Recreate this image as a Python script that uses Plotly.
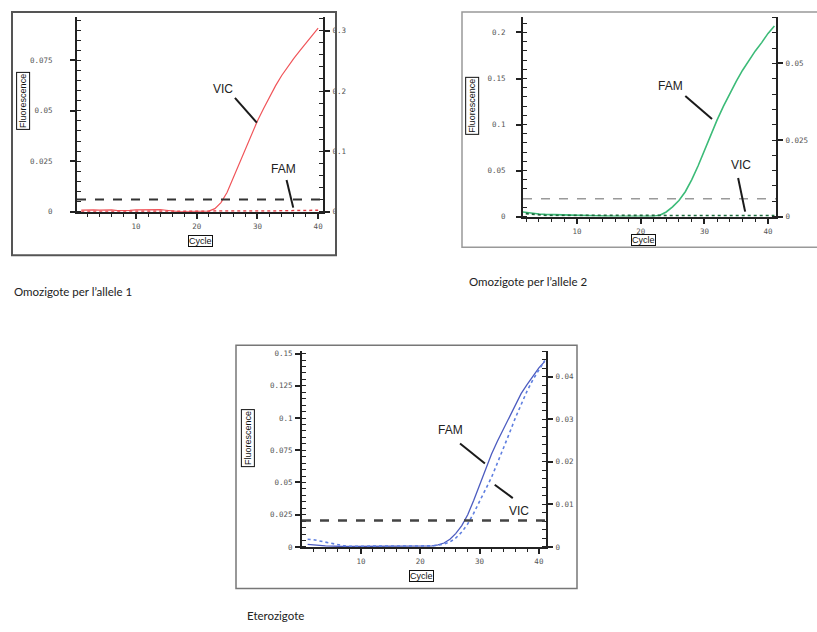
import plotly.graph_objects as go

# ---------------- data ----------------
cycles = list(range(1, 42))

# Panel 1 - Omozigote per l'allele 1 (VIC on left axis, FAM on right axis)
p1_vic = [0.0008, 0.0010, 0.0009, 0.0008, 0.0010, 0.0009, 0.0005, 0.0004, 0.0006, 0.0009,
          0.0010, 0.0011, 0.0010, 0.0010, 0.0007, 0.0002, 0.0000, 0.0000, 0.0000, 0.0000,
          0.0001, 0.0003, 0.0015, 0.0045, 0.0095, 0.0165, 0.0240, 0.0310, 0.0380, 0.0450,
          0.0510, 0.0570, 0.0625, 0.0675, 0.0720, 0.0760, 0.0798, 0.0837, 0.0875, 0.0910]
p1_fam = [0.0002, 0.0002, 0.0001, 0.0001, 0.0001, 0.0001, 0.0001, 0.0001, 0.0001, 0.0001,
          0.0001, 0.0001, 0.0001, 0.0001, 0.0001, 0.0001, 0.0001, 0.0001, 0.0001, 0.0001,
          0.0001, 0.0001, 0.0001, 0.0002, 0.0002, 0.0003, 0.0004, 0.0005, 0.0006, 0.0008,
          0.0009, 0.0010, 0.0012, 0.0014, 0.0016, 0.0018, 0.0020, 0.0021, 0.0022, 0.0023]
p1_threshold = 0.006

# Panel 2 - Omozigote per l'allele 2 (FAM on left axis, VIC on right axis)
p2_fam = [0.0055, 0.0045, 0.0035, 0.0028, 0.0024, 0.0022, 0.0021, 0.0019, 0.0016, 0.0011,
          0.0006, 0.0003, 0.0002, 0.0002, 0.0002, 0.0002, 0.0002, 0.0002, 0.0002, 0.0002,
          0.0002, 0.0004, 0.0015, 0.0050, 0.0105, 0.0175, 0.0270, 0.0400, 0.0550, 0.0720,
          0.0890, 0.1050, 0.1200, 0.1340, 0.1470, 0.1590, 0.1700, 0.1800, 0.1890, 0.1990,
          0.2070]
p2_vic = [0.0012, 0.0010, 0.0007, 0.0005, 0.0004, 0.0004, 0.0004, 0.0003, 0.0003, 0.0002,
          0.0002, 0.0002, 0.0002, 0.0002, 0.0002, 0.0002, 0.0002, 0.0002, 0.0002, 0.0002,
          0.0002, 0.0002, 0.0002, 0.0002, 0.0002, 0.0002, 0.0002, 0.0002, 0.0002, 0.0002,
          0.0002, 0.0002, 0.0002, 0.0003, 0.0003, 0.0003, 0.0003, 0.0003, 0.0003, 0.0003,
          0.0003]
p2_threshold = 0.0194

# Panel 3 - Eterozigote (FAM on left axis, VIC on right axis)
p3_fam = [0.0020, 0.0018, 0.0012, 0.0008, 0.0005, 0.0004, 0.0003, 0.0003, 0.0003, 0.0004,
          0.0003, 0.0003, 0.0004, 0.0003, 0.0003, 0.0004, 0.0003, 0.0003, 0.0003, 0.0003,
          0.0004, 0.0008, 0.0015, 0.0030, 0.0060, 0.0105, 0.0165, 0.0250, 0.0360, 0.0480,
          0.0610, 0.0720, 0.0820, 0.0910, 0.1010, 0.1100, 0.1190, 0.1260, 0.1330, 0.1390,
          0.1440]
p3_vic = [0.0018, 0.0017, 0.0014, 0.0011, 0.0008, 0.0005, 0.0003, 0.00015, 0.00015, 0.00015,
          0.00015, 0.00015, 0.00015, 0.00015, 0.00015, 0.00015, 0.00015, 0.00015, 0.00015, 0.00015,
          0.00015, 0.00024, 0.0004, 0.00067, 0.00115, 0.0021, 0.0035, 0.0054, 0.0079, 0.0106,
          0.0133, 0.0163, 0.0197, 0.0230, 0.0266, 0.0302, 0.0336, 0.0366, 0.0393, 0.0417,
          0.0438]
p3_threshold = 0.0205

captions = ["Omozigote per l\u2019allele 1", "Omozigote per l\u2019allele 2", "Eterozigote"]

# ---------------- figure ----------------
W, H = 817, 632
def px(x):
    return x / W
def py(y):
    return 1 - y / H

AX = '#222222'
TICKFONT = dict(family='DejaVu Sans Mono, monospace', size=7.5, color='#555555')

def xax(x0, x1, rng, anchor):
    return dict(domain=[px(x0), px(x1)], range=rng, anchor=anchor,
                showline=True, linecolor=AX, linewidth=2, mirror=False,
                ticks='outside', ticklen=5, tickwidth=1.5, tickcolor=AX,
                tick0=0, dtick=10, showgrid=False, zeroline=False,
                tickfont=TICKFONT, ticklabelstandoff=1,
                minor=dict(dtick=2, tick0=0, ticks='outside', ticklen=3, tickwidth=1.2,
                           tickcolor=AX, showgrid=False))

def yax(y0, y1, rng, anchor, dtick, mdtick, side='left', overlaying=None, standoff=1):
    d = dict(domain=[py(y1), py(y0)], range=rng, anchor=anchor, side=side,
             showline=True, linecolor=AX, linewidth=2,
             ticks='outside', ticklen=5, tickwidth=1.5, tickcolor=AX,
             tick0=0, dtick=dtick, showgrid=False, zeroline=False,
             tickfont=TICKFONT, ticklabelstandoff=standoff,
             minor=dict(dtick=mdtick, tick0=0, ticks='inside', ticklen=4, tickwidth=1.2,
                        tickcolor=AX, showgrid=False))
    if overlaying:
        d['overlaying'] = overlaying
    return d

fig = go.Figure()

# Panel 1 traces
fig.add_trace(go.Scatter(x=cycles[:len(p1_vic)], y=p1_vic, mode='lines', xaxis='x', yaxis='y',
                         line=dict(color='#f0555a', width=1.2), name='VIC', showlegend=False))
fig.add_trace(go.Scatter(x=cycles[:len(p1_fam)], y=p1_fam, mode='lines', xaxis='x', yaxis='y2',
                         line=dict(color='#e83c44', width=1.5, dash='dot'), name='FAM', showlegend=False))
# Panel 2 traces
fig.add_trace(go.Scatter(x=cycles, y=p2_fam, mode='lines', xaxis='x2', yaxis='y3',
                         line=dict(color='#3cbb78', width=1.6), name='FAM', showlegend=False))
fig.add_trace(go.Scatter(x=cycles, y=p2_vic, mode='lines', xaxis='x2', yaxis='y4',
                         line=dict(color='#1d6b3e', width=1.8, dash='dot'), name='VIC', showlegend=False))
# Panel 3 traces
fig.add_trace(go.Scatter(x=cycles, y=p3_fam, mode='lines', xaxis='x3', yaxis='y5',
                         line=dict(color='#4c5cc0', width=1.3), name='FAM', showlegend=False))
fig.add_trace(go.Scatter(x=cycles, y=p3_vic, mode='lines', xaxis='x3', yaxis='y6',
                         line=dict(color='#5f7fe0', width=1.6, dash='dot'), name='VIC', showlegend=False))

layout = dict(
    width=W, height=H, autosize=False,
    margin=dict(l=0, r=0, t=0, b=0),
    paper_bgcolor='white', plot_bgcolor='white', showlegend=False,
    xaxis=xax(77, 323, [0.3, 40.8], 'y'),
    yaxis=yax(15, 212, [0, 0.0966], 'x', 0.025, 0.005, standoff=16),
    yaxis2=yax(15, 212, [0, 0.323], 'x', 0.1, 0.02, side='right', overlaying='y'),
    xaxis2=xax(523, 776, [1.5, 41.25], 'y3'),
    yaxis3=yax(15, 217, [0, 0.217], 'x2', 0.05, 0.01, standoff=9),
    yaxis4=yax(15, 217, [0, 0.0652], 'x2', 0.025, 0.005, side='right', overlaying='y3'),
    xaxis3=xax(302, 546, [0.05, 41.2], 'y5'),
    yaxis5=yax(353, 551, [0, 0.152], 'x3', 0.025, 0.005, standoff=1),
    yaxis6=yax(353, 551, [0, 0.046], 'x3', 0.01, 0.002, side='right', overlaying='y5'),
)
fig.update_layout(**layout)

shapes = []
# frames around each chart image
shapes.append(dict(type='rect', xref='paper', yref='paper', x0=px(12), x1=px(336), y0=py(256), y1=py(10),
                   line=dict(color='#555555', width=2)))
shapes.append(dict(type='rect', xref='paper', yref='paper', x0=px(462), x1=px(830), y0=py(248), y1=py(10),
                   line=dict(color='#999999', width=1.5)))
shapes.append(dict(type='rect', xref='paper', yref='paper', x0=px(236), x1=px(577), y0=py(593), y1=py(347),
                   line=dict(color='#777777', width=1.5)))
# threshold lines
shapes.append(dict(type='line', xref='x domain', yref='y', x0=0, x1=1, y0=p1_threshold, y1=p1_threshold,
                   line=dict(color='#333333', width=2, dash='dash')))
shapes.append(dict(type='line', xref='x2 domain', yref='y3', x0=0, x1=1, y0=p2_threshold, y1=p2_threshold,
                   line=dict(color='#9a9a9a', width=1.5, dash='dash')))
shapes.append(dict(type='line', xref='x3 domain', yref='y5', x0=0, x1=1, y0=p3_threshold, y1=p3_threshold,
                   line=dict(color='#444444', width=2.5, dash='dash')))
# leader lines for the dye labels
leader = dict(color='#1a1a1a', width=2)
shapes.append(dict(type='line', xref='x', yref='y', x0=26.3, y0=0.0564, x1=29.9, y1=0.0441, line=leader))
shapes.append(dict(type='line', xref='x', yref='y', x0=34.8, y0=0.0157, x1=35.9, y1=0.0020, line=leader))
shapes.append(dict(type='line', xref='x2', yref='y3', x0=27.0, y0=0.131, x1=31.2, y1=0.106, line=leader))
shapes.append(dict(type='line', xref='x2', yref='y3', x0=35.3, y0=0.042, x1=36.4, y1=0.0054, line=leader))
shapes.append(dict(type='line', xref='x3', yref='y5', x0=26.7, y0=0.0802, x1=30.9, y1=0.0648, line=leader))
shapes.append(dict(type='line', xref='x3', yref='y5', x0=32.55, y0=0.0482, x1=35.6, y1=0.0379, line=leader))
fig.update_layout(shapes=shapes)

LBL = dict(family='Liberation Sans, Arial, sans-serif', size=12, color='#222222')
ann = []
ann.append(dict(xref='x', yref='y', x=24.3, y=0.0608, text='VIC', showarrow=False, font=LBL))
ann.append(dict(xref='x', yref='y', x=34.3, y=0.0211, text='FAM', showarrow=False, font=LBL))
ann.append(dict(xref='x2', yref='y3', x=24.6, y=0.142, text='FAM', showarrow=False, font=LBL))
ann.append(dict(xref='x2', yref='y3', x=35.7, y=0.056, text='VIC', showarrow=False, font=LBL))
ann.append(dict(xref='x3', yref='y5', x=25.05, y=0.0905, text='FAM', showarrow=False, font=LBL))
ann.append(dict(xref='x3', yref='y5', x=36.7, y=0.0277, text='VIC', showarrow=False, font=LBL))

BOXF = dict(family='Liberation Sans, Arial, sans-serif', size=9, color='#111111')
for (cx, cy) in [(23, 100), (472, 105), (248, 441)]:
    ann.append(dict(xref='paper', yref='paper', x=px(cx), y=py(cy), text='Fluorescence', textangle=-90,
                    showarrow=False, font=BOXF, bordercolor='#111111', borderwidth=1, borderpad=1,
                    xanchor='center', yanchor='middle'))
for (cx, cy) in [(200, 242), (643, 241), (421, 580)]:
    ann.append(dict(xref='paper', yref='paper', x=px(cx), y=py(cy), text='Cycle',
                    showarrow=False, font=BOXF, bordercolor='#111111', borderwidth=1, borderpad=0,
                    xanchor='center', yanchor='middle'))

CAP = dict(family='Lato, Open Sans, sans-serif', size=11.5, color='#222222')
for text, (cx, cy) in zip(captions, [(12, 293), (467, 283), (245, 620)]):
    ann.append(dict(xref='paper', yref='paper', x=px(cx), y=py(cy), text=text, showarrow=False,
                    font=CAP, xanchor='left', yanchor='middle'))
fig.update_layout(annotations=ann)

fig.write_html("out.html")
